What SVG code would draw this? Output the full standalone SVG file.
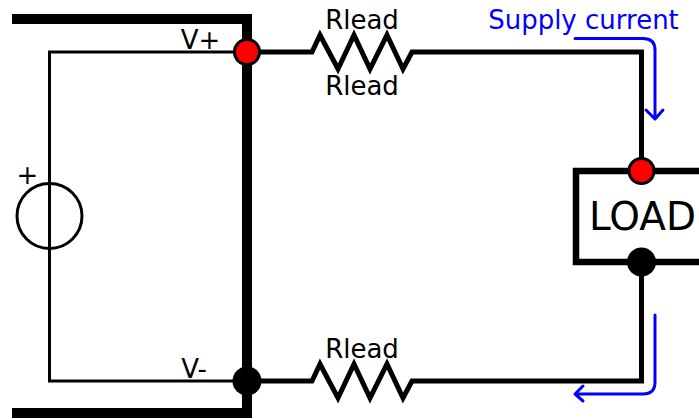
<svg xmlns="http://www.w3.org/2000/svg" width="699" height="419" viewBox="0 0 699 419">
<style>
.w{fill:none;stroke:#000;stroke-linejoin:miter}
.b{fill:none;stroke:#00f;stroke-width:3;stroke-linecap:round;stroke-linejoin:round}
text{font-family:"DejaVu Sans",sans-serif;fill:#000}
.t{font-size:26px;text-anchor:middle}
</style>
<rect width="699" height="419" fill="#fff"/>
<g id="connectors">
<path class="w" stroke-width="10" d="M12 19H247V413H12"/>
<path class="w" stroke-width="3" d="M247 52H49.500V381H247"/>
<path class="w" stroke-width="5" d="M247 52H312L320 35 338 69 354 35 370 69 387 35 403 69 412 52H641.500V171"/>
<path class="w" stroke-width="5" d="M247 381H312L320 364 338 398 354 364 370 398 387 364 403 398 412 381H641.500V262"/>
</g>
<g id="source">
<circle cx="49.500" cy="216" r="32.500" fill="none" stroke="#000" stroke-width="3"/>
<path class="w" stroke-width="3" d="M49.500 183V249"/>
<text class="t" x="27.500" y="184">+</text>
</g>
<g id="load">
<path class="w" stroke-width="6.500" d="M699 171H576V262H699"/>
<text x="642.500" y="230" font-size="39" text-anchor="middle">LOAD</text>
</g>
<g id="node-vplus">
<circle cx="247" cy="52" r="12.500" fill="#f00" stroke="#000" stroke-width="3"/>
<text class="t" x="200.500" y="49">V+</text>
</g>
<g id="node-vminus">
<circle cx="247" cy="381" r="14.500" fill="#000"/>
<text class="t" x="194" y="378">V-</text>
</g>
<g id="node-load-plus"><circle cx="641.500" cy="171" r="12.500" fill="#f00" stroke="#000" stroke-width="3"/></g>
<g id="node-load-minus"><circle cx="641.500" cy="262" r="14.500" fill="#000"/></g>
<g id="labels">
<text class="t" x="362" y="29">Rlead</text>
<text class="t" x="362" y="95">Rlead</text>
<text class="t" x="362" y="358">Rlead</text>
</g>
<g id="current">
<text x="583.500" y="29" font-size="26" text-anchor="middle" style="fill:#00f">Supply current</text>
<path class="b" d="M575 38.500H643Q655 38.500 655 50V118M646 110L655 119 663 110"/>
<path class="b" d="M655 315V382Q655 394 643 394H576M583 386L575 394 583 401"/>
</g>
</svg>
